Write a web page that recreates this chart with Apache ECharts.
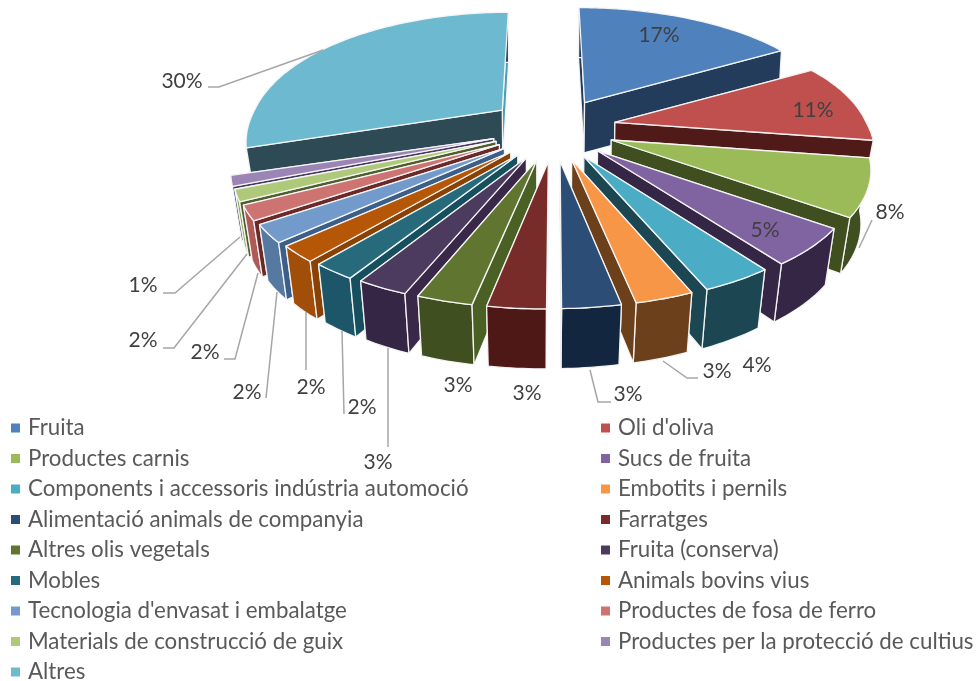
<!DOCTYPE html>
<html><head><meta charset="utf-8">
<script src="https://cdn.jsdelivr.net/npm/echarts@6/dist/echarts.min.js"></script>
<style>html,body{margin:0;padding:0;background:#fff}#c{width:976px;height:681px}</style>
</head><body><div id="c"></div>
<script>
const categories = ["Fruita","Oli d'oliva","Productes carnis","Sucs de fruita","Components i accessoris indústria automoció","Embotits i pernils","Alimentació animals de companyia","Farratges","Altres olis vegetals","Fruita (conserva)","Mobles","Animals bovins vius","Tecnologia d'envasat i embalatge","Productes de fosa de ferro","Materials de construcció de guix","Productes per la protecció de cultius","Altres"];
const values = [16.7,10.7,7.6,5.0,3.7,3.0,3.0,3.0,2.9,2.7,2.3,2.2,2.4,2.0,1.6,1.4,29.8];

const topColors = ['#4F81BD','#C0504D','#9BBB59','#8064A2','#4BACC6','#F79646','#2C4D75','#772C2A','#5F7530','#4D3B5F','#276A7C','#B65708','#729ACA','#CD7371','#AFC97A','#9A85B4','#6DB9CF'];
const arcColors = ['#243C5C','#4F1A18','#3F4F20','#352645','#1C4752','#6B401A','#13263F','#4E1817','#3F4F20','#352645','#1C5668','#A04E08','#5679A2','#B05A58','#8FA860','#7A63A0','#2E4A54'];
const radialColors = ['#243C5C','#4F1A18','#3F4F20','#352645','#1C4752','#6B401A','#13263F','#4E1817','#4A6024','#3A2848','#16505E','#8A4204','#3C5F8A','#6B2A28','#4F5F30','#4A3A60','#2E4A54'];
const backWallColors = radialColors.map((c,i)=> i===16 ? '#4F9FB5' : c);
const paintOrder = [0,1,2,3,4,5,6,16,15,14,13,12,11,10,9,8,7];

// label layout: text centre + leader polyline
const labelCentres = [[659,35],[813,110],[890,212],[765,230],[757,365],[717,371],[628,394],[527,393],[458,385],[378,462],[362,407],[311,387],[247,392],[205,352],[143,340],[143,285],[182,81]];
const leaders = [null,null,[[872,220],[859,248]],null,null,[[663,361],[687,378],[698,378]],[[590,370],[598,402],[611,402]],null,null,[[388,348],[388,447]],[[342,331],[344,414]],[[306,312],[306,370]],[[277,292],[266,398]],[[258,273],[235,359],[224,359]],[[247,254],[174,348],[163,348]],[[240,237],[175,293],[163,293]],[[323,50],[219,87],[208,87]]];

const total = values.reduce((a,b)=>a+b,0);
const starts = []; values.reduce((a,v,i)=>{starts[i]=a;return a+v;},0);

const CX=553, CY=131, EX=63, EY=31, A=252, B=115.5, K=0.215, VX=540;
const rad = v => v/total*Math.PI*2;

function sliceShape(i, v){
  const t0 = rad(starts[i]), t1 = t0 + rad(v), m = (t0+t1)/2;
  const far = i===16; // the biggest slice sits furthest back, so its rim reads slightly differently
  const sx = far?0.98:1, sy = far?1.03:1, lean = far?0.67:1;
  const ax = CX+EX*Math.sin(m), ay = CY-EY*Math.cos(m)-3*Math.abs(Math.sin(m));
  const pt = t => { const c=Math.cos(t), w=1+K*c;
    const l = lean*(ax-CX)*(1/w-1)*(c>0?c*c*c:1);
    const f = (1-c)/2;
    return [ax+l+sx*A*Math.sin(t)/w-6.5*f*f*f, ay-sy*B*c/w]; };
  const depthAt = y => 50 + 10*Math.min(1,Math.max(0,(y-100)/200));
  const drop = p => { const d = depthAt(p[1]);
    return [VX+(p[0]-VX)*(1-0.03*(p[1]>ay?1:0.4)), p[1]+d]; };
  const arc=[]; const n=Math.max(4,Math.ceil((t1-t0)/0.02));
  for(let k=0;k<=n;k++) arc.push(pt(t0+(t1-t0)*k/n));
  return {apex:[ax,ay],arc,drop};
}

function renderSlice(i){
  return function(params, api){
    const v = api.value(0);
    const s = sliceShape(i, v);
    const edge = {stroke:'rgba(248,248,248,0.95)',lineWidth:1.3};
    const poly = (pts,fill)=>({type:'polygon',shape:{points:pts},style:Object.assign({fill,lineJoin:'round'},edge)});
    const aB = s.drop(s.apex);
    const first = s.arc[0], last = s.arc[s.arc.length-1];
    const arcWall = s.arc.concat(s.arc.slice().reverse().map(s.drop));
    const startWall = [s.apex,first,s.drop(first),aB];
    const endWall = [s.apex,last,s.drop(last),aB];
    const mid = (starts[i]+v/2)/total;
    const ch = [];
    // the wall facing away first, then the rim, then the wall facing the viewer
    if(mid<0.5) ch.push(poly(startWall,backWallColors[i])); else ch.push(poly(endWall,backWallColors[i]));
    ch.push(poly(arcWall,arcColors[i]));
    if(mid<0.5) ch.push(poly(endWall,radialColors[i])); else ch.push(poly(startWall,radialColors[i]));
    ch.push(poly([s.apex].concat(s.arc),topColors[i]));
    if(leaders[i]) ch.push({type:'polyline',shape:{points:leaders[i]},style:{stroke:'#A6A6A6',lineWidth:1.5,fill:null}});
    ch.push({type:'text',x:labelCentres[i][0],y:labelCentres[i][1],style:{text:Math.round(v/total*100)+'%',fill:'#404040',font:'21px Lato',align:'center',verticalAlign:'middle',textAlign:'center',textVerticalAlign:'middle'}});
    return {type:'group',children:ch};
  };
}

const series = categories.map((name,i)=>({
  name, type:'custom', coordinateSystem:'none', silent:true,
  z: 2+paintOrder.indexOf(i),
  itemStyle:{color:topColors[i]},
  data:[[values[i]]],
  renderItem: renderSlice(i)
}));

const legendBase = {orient:'vertical',selectedMode:false,icon:'rect',itemWidth:9,itemHeight:9,itemGap:8.5,padding:0,height:300,
  textStyle:{color:'#595959',fontFamily:'Lato',fontSize:22.3,lineHeight:20,padding:[0,0,0,3]}};
const chart = echarts.init(document.getElementById('c'),null,{renderer:'canvas'});
chart.setOption({
  animation:false, backgroundColor:'#fff',
  legend:[
    Object.assign({},legendBase,{left:11,top:417,data:categories.filter((c,i)=>i%2===0)}),
    Object.assign({},legendBase,{left:601,top:417,data:categories.filter((c,i)=>i%2===1)})
  ],
  series
});
</script></body></html>
